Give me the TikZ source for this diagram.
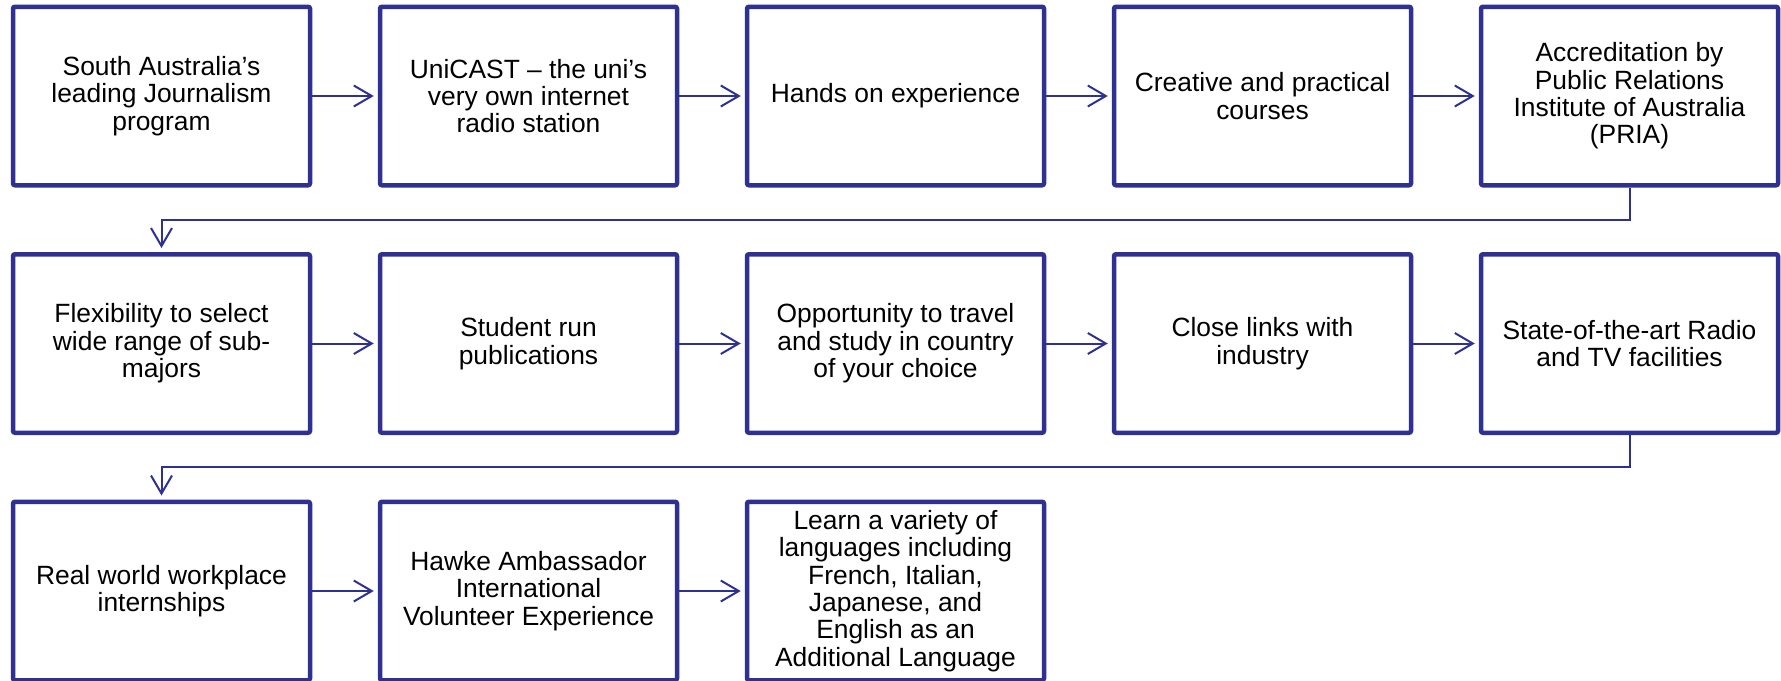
\documentclass[tikz,border=0pt]{standalone}
\usepackage{fontspec}
\setmainfont{Liberation Sans}
\usetikzlibrary{arrows.meta,calc}
\definecolor{azulcaja}{RGB}{46,49,146}
\tikzset{
  caja/.style={draw=azulcaja, line width=2.25pt, rounded corners=1pt, minimum width=148.5pt, minimum height=89.25pt, align=center, inner sep=2pt, font=\fontsize{13.2pt}{13.7pt}\selectfont},
  flecha/.style={draw=azulcaja, line width=1pt, -{Straight Barb[length=9pt,width=10.5pt]}, shorten >=2pt}
}
\begin{document}
\begin{tikzpicture}[x=0.5pt,y=-0.5pt]
	\useasboundingbox (0,0) rectangle (1781,680); %marco
	\node[caja] (a1) at (161.5,96) {South Australia’s\\leading Journalism\\program}; %fila 1
	\node[caja] (a2) at (528.5,96) {UniCAST – the uni’s\\very own internet\\radio station};
	\node[caja] (a3) at (895.5,96) {Hands on experience};
	\node[caja] (a4) at (1262.5,96) {Creative and practical\\courses};
	\node[caja] (a5) at (1629.5,96) {Accreditation by\\Public Relations\\Institute of Australia\\(PRIA)};
	\node[caja] (b1) at (161.5,343.5) {Flexibility to select\\wide range of sub-\\majors}; %fila 2
	\node[caja] (b2) at (528.5,343.5) {Student run\\publications};
	\node[caja] (b3) at (895.5,343.5) {Opportunity to travel\\and study in country\\of your choice};
	\node[caja] (b4) at (1262.5,343.5) {Close links with\\industry};
	\node[caja] (b5) at (1629.5,343.5) {State-of-the-art Radio\\and TV facilities};
	\node[caja] (c1) at (161.5,591) {Real world workplace\\internships}; %fila 3
	\node[caja] (c2) at (528.5,591) {Hawke Ambassador\\International\\Volunteer Experience};
	\node[caja] (c3) at (895.5,591) {Learn a variety of\\languages including\\French, Italian,\\Japanese, and\\English as an\\Additional Language};
	\draw[flecha] (a1.east) -- (a2.west); %flechas fila 1
	\draw[flecha] (a2.east) -- (a3.west);
	\draw[flecha] (a3.east) -- (a4.west);
	\draw[flecha] (a4.east) -- (a5.west);
	\draw[flecha] (a5.south) |- ($(a5.south)!0.5!(b1.north)$) -| (b1.north); %salto a fila 2
	\draw[flecha] (b1.east) -- (b2.west); %flechas fila 2
	\draw[flecha] (b2.east) -- (b3.west);
	\draw[flecha] (b3.east) -- (b4.west);
	\draw[flecha] (b4.east) -- (b5.west);
	\draw[flecha] (b5.south) |- ($(b5.south)!0.5!(c1.north)$) -| (c1.north); %salto a fila 3
	\draw[flecha] (c1.east) -- (c2.west); %flechas fila 3
	\draw[flecha] (c2.east) -- (c3.west);
\end{tikzpicture}
\end{document}
